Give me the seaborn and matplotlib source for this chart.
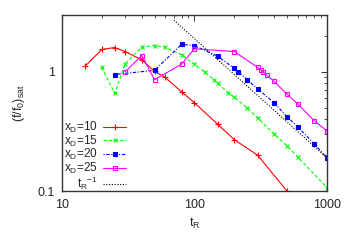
import matplotlib
matplotlib.use("Agg")
import matplotlib.pyplot as plt
import seaborn as sns
import numpy as np
import pandas as pd

red_t = [15, 20, 25, 30, 40, 50, 60, 80, 100, 150, 200, 300, 500]
red_f = [1.12, 1.54, 1.60, 1.48, 1.26, 1.01, 0.90, 0.68, 0.55, 0.363, 0.27, 0.20, 0.10]

green_t = [20, 25, 30, 40, 50, 60, 80, 100, 120, 140, 150, 180, 200, 250, 300, 400, 500, 600, 1000]
green_f = [1.09, 0.66, 1.17, 1.61, 1.66, 1.61, 1.39, 1.16, 0.99, 0.86, 0.80, 0.67, 0.61, 0.50, 0.41, 0.30, 0.24, 0.194, 0.107]

blue_t = [25, 50, 80, 100, 150, 200, 215, 250, 300, 400, 500, 600, 800, 1000]
blue_f = [0.95, 1.03, 1.70, 1.66, 1.35, 1.07, 1.0, 0.86, 0.72, 0.55, 0.42, 0.347, 0.25, 0.19]

mag_t = [30, 40, 50, 80, 100, 200, 300, 320, 330, 350, 400, 500, 600, 800, 1000]
mag_f = [1.0, 1.37, 0.86, 1.16, 1.56, 1.48, 1.09, 1.03, 1.0, 0.94, 0.83, 0.65, 0.54, 0.39, 0.32]

tr_t = np.array([70, 1000])
tr_coef = 190.0

labels = [r'x$_D$=10', r'x$_D$=15', r'x$_D$=20', r'x$_D$=25', r't$_R$$^{-1}$']

sns.set_style("white")
plt.rcParams['font.family'] = ['Liberation Sans', 'DejaVu Sans']
plt.rcParams['mathtext.default'] = 'regular'

fig = plt.figure(figsize=(3.5, 2.45), dpi=100)
ax = fig.add_axes([0.177, 0.220, 0.757, 0.719])

series = [
    (red_t, red_f, '#ff0000', '-', '+', 'none', 5),
    (green_t, green_f, '#00ff00', (0, (3, 2)), 'x', 'none', 3.5),
    (blue_t, blue_f, '#0000ff', (0, (1, 1.5, 3, 1.5)), 's', '#0000ff', 2.6),
    (mag_t, mag_f, '#ff00ff', '-', 's', 'none', 3.5),
]
for (t, f, c, ls, m, mfc, ms), lab in zip(series, labels):
    df = pd.DataFrame({'t': t, 'f': f})
    sns.lineplot(data=df, x='t', y='f', ax=ax, color=c, linestyle=ls, lw=0.8,
                 marker=m, markersize=ms, markerfacecolor=mfc, markeredgecolor=c,
                 markeredgewidth=0.8, label=lab, sort=False)

df_tr = pd.DataFrame({'t': tr_t, 'f': tr_coef / tr_t})
sns.lineplot(data=df_tr, x='t', y='f', ax=ax, color='black', linestyle=(0, (1, 1.5)),
             lw=0.8, label=labels[4])

ax.set_xscale('log')
ax.set_yscale('log')
ax.set_xlim(10, 1000)
ax.set_ylim(0.1, 3.0)
ax.set_xticks([10, 100, 1000])
ax.set_xticklabels(['10', '100', '1000'])
ax.set_yticks([0.1, 1])
ax.set_yticklabels(['0.1', '1'])
ax.tick_params(which='major', direction='in', length=4, width=0.7, top=True, right=True,
               labelsize=9, pad=5, color='#333333')
ax.tick_params(which='minor', direction='in', length=2, width=0.6, top=True, right=True,
               color='#333333')
ax.tick_params(axis='x', which='major', pad=6)
for s in ax.spines.values():
    s.set_color('#333333')
    s.set_linewidth(1.0)
ax.set_xlabel(r't$_R$', fontsize=9, labelpad=3)
ax.set_ylabel(r'(f/f$_0$)$_{sat}$', fontsize=9, labelpad=8)

leg = ax.legend(loc='lower left', bbox_to_anchor=(-0.02, -0.045), frameon=False,
                markerfirst=False, fontsize=8.5, handlelength=1.9, handletextpad=0.5,
                labelspacing=-0.12, borderaxespad=0.2)

fig.savefig('out.png', dpi=100)
